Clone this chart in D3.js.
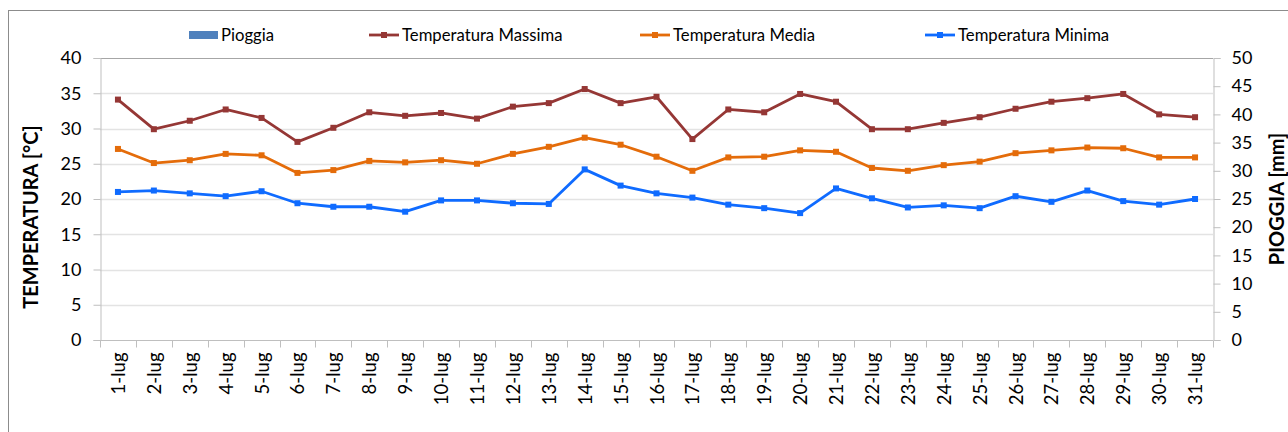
<!DOCTYPE html>
<html><head><meta charset="utf-8">
<script src="https://cdn.jsdelivr.net/npm/d3@7"></script>
<style>
html,body{margin:0;padding:0;background:#fff;}
svg{display:block;font-family:Lato,"Open Sans",sans-serif;}
</style></head>
<body>
<svg id="c" width="1288" height="432"></svg>
<script>
const categories = ["1-lug","2-lug","3-lug","4-lug","5-lug","6-lug","7-lug","8-lug","9-lug","10-lug","11-lug","12-lug","13-lug","14-lug","15-lug","16-lug","17-lug","18-lug","19-lug","20-lug","21-lug","22-lug","23-lug","24-lug","25-lug","26-lug","27-lug","28-lug","29-lug","30-lug","31-lug"];
const pioggia = [0,0,0,0,0,0,0,0,0,0,0,0,0,0,0,0,0,0,0,0,0,0,0,0,0,0,0,0,0,0,0];
const tMax = [34.1,29.9,31.1,32.7,31.5,28.1,30.1,32.3,31.8,32.2,31.4,33.1,33.6,35.6,33.6,34.5,28.5,32.7,32.3,34.9,33.8,29.9,29.9,30.8,31.6,32.8,33.8,34.3,34.9,32.0,31.6];
const tMed = [27.1,25.1,25.5,26.4,26.2,23.7,24.1,25.4,25.2,25.5,25.0,26.4,27.4,28.7,27.7,26.0,24.0,25.9,26.0,26.9,26.7,24.4,24.0,24.8,25.3,26.5,26.9,27.3,27.2,25.9,25.9];
const tMin = [21.0,21.2,20.8,20.4,21.1,19.4,18.9,18.9,18.2,19.8,19.8,19.4,19.3,24.2,21.9,20.8,20.2,19.2,18.7,18.0,21.5,20.1,18.8,19.1,18.7,20.4,19.6,21.2,19.7,19.2,20.0];
const leftTicks = [0,5,10,15,20,25,30,35,40];
const rightTicks = [0,5,10,15,20,25,30,35,40,45,50];

const svg = d3.select("#c");
const L = 100, R = 1213, T = 58, B = 340;

// outer border
svg.append("rect").attr("x",8.5).attr("y",10.5).attr("width",1300).attr("height",440)
  .attr("fill","none").attr("stroke","#8c8c8c").attr("stroke-width",1);

const x = d3.scaleBand().domain(categories).range([L,R]).padding(0);
const y = d3.scaleLinear().domain([0,40]).range([B,T]);
const y2 = d3.scaleLinear().domain([0,50]).range([B,T]);

// gridlines
svg.append("g").selectAll("line").data(leftTicks.slice(1,-1)).join("line")
  .attr("x1",L).attr("x2",R).attr("y1",d=>Math.round(y(d))+0.5).attr("y2",d=>Math.round(y(d))+0.5)
  .attr("stroke","#e3e3e3").attr("stroke-width",1.5);
// top border of plot
svg.append("line").attr("x1",L).attr("x2",R).attr("y1",T+0.5).attr("y2",T+0.5)
  .attr("stroke","#a6a6a6").attr("stroke-width",1);

// left axis
const yAxis = d3.axisLeft(y).tickValues(leftTicks).tickSize(7).tickPadding(12);
const gy = svg.append("g").attr("transform",`translate(${L+0.5},0)`).call(yAxis);
gy.select(".domain").attr("stroke","#bfbfbf");
gy.selectAll(".tick line").attr("stroke","#bfbfbf");
gy.selectAll("text").attr("font-size",18).attr("fill","#000").attr("font-family","Lato");

// right axis
const y2Axis = d3.axisRight(y2).tickValues(rightTicks).tickSize(7).tickPadding(11);
const gy2 = svg.append("g").attr("transform",`translate(${R+0.5},0)`).call(y2Axis);
gy2.select(".domain").attr("stroke","#bfbfbf");
gy2.selectAll(".tick line").attr("stroke","#bfbfbf");
gy2.selectAll("text").attr("font-size",18).attr("fill","#000").attr("font-family","Lato");

// x axis
const gx = svg.append("g").attr("transform",`translate(0,${B+0.5})`);
gx.append("line").attr("x1",L).attr("x2",R).attr("stroke","#bfbfbf");
const bounds = categories.map(c=>x(c)).concat([R]);
gx.selectAll("line.tk").data(bounds).join("line").attr("class","tk")
  .attr("x1",d=>Math.round(d)+0.5).attr("x2",d=>Math.round(d)+0.5).attr("y1",0).attr("y2",7)
  .attr("stroke","#bfbfbf");
gx.selectAll("text").data(categories).join("text")
  .attr("transform",d=>`translate(${x(d)+x.bandwidth()/2+7},12) rotate(-90)`)
  .attr("text-anchor","end").attr("font-size",18.5).attr("font-family","Lato").attr("fill","#000")
  .text(d=>d);

// rain bars
svg.append("g").selectAll("rect").data(pioggia).join("rect")
  .attr("x",(d,i)=>x(categories[i])+x.bandwidth()*0.2).attr("width",x.bandwidth()*0.6)
  .attr("y",d=>y2(d)).attr("height",d=>B-y2(d)).attr("fill","#4f81bd");

// lines
const series = [
  {name:"Temperatura Massima", data:tMax, color:"#953735"},
  {name:"Temperatura Media", data:tMed, color:"#e46c0a"},
  {name:"Temperatura Minima", data:tMin, color:"#0f6bff"}
];
const line = d3.line().x((d,i)=>x(categories[i])+x.bandwidth()/2).y(d=>y(d));
series.forEach(s=>{
  const g = svg.append("g");
  g.append("path").attr("d",line(s.data)).attr("fill","none").attr("stroke",s.color).attr("stroke-width",2.8).attr("stroke-linejoin","round");
  g.selectAll("rect").data(s.data).join("rect")
    .attr("x",(d,i)=>x(categories[i])+x.bandwidth()/2-3).attr("y",d=>y(d)-3)
    .attr("width",6).attr("height",6).attr("fill",s.color);
});

// axis titles
svg.append("text").attr("transform",`translate(38,${(T+B)/2+18}) rotate(-90)`)
  .attr("text-anchor","middle").attr("font-size",20).attr("font-weight","bold").attr("font-family","Lato").text("TEMPERATURA [°C]");
svg.append("text").attr("transform",`translate(1284,${(T+B)/2}) rotate(-90)`)
  .attr("text-anchor","middle").attr("font-size",20).attr("font-weight","bold").attr("font-family","Lato").text("PIOGGIA [mm]");

// legend
const lg = svg.append("g").attr("font-size",16.7).attr("font-family","Lato");
lg.append("rect").attr("x",189).attr("y",31).attr("width",29).attr("height",8).attr("fill","#4f81bd");
lg.append("text").attr("x",221).attr("y",41).text("Pioggia");
const legPos = [369, 640, 925];
series.forEach((s,i)=>{
  const lx = legPos[i];
  lg.append("line").attr("x1",lx).attr("x2",lx+30).attr("y1",35).attr("y2",35).attr("stroke",s.color).attr("stroke-width",2.8);
  lg.append("rect").attr("x",lx+12).attr("y",32).attr("width",6).attr("height",6).attr("fill",s.color);
  lg.append("text").attr("x",lx+33).attr("y",41).text(s.name);
});
</script>
</body></html>
